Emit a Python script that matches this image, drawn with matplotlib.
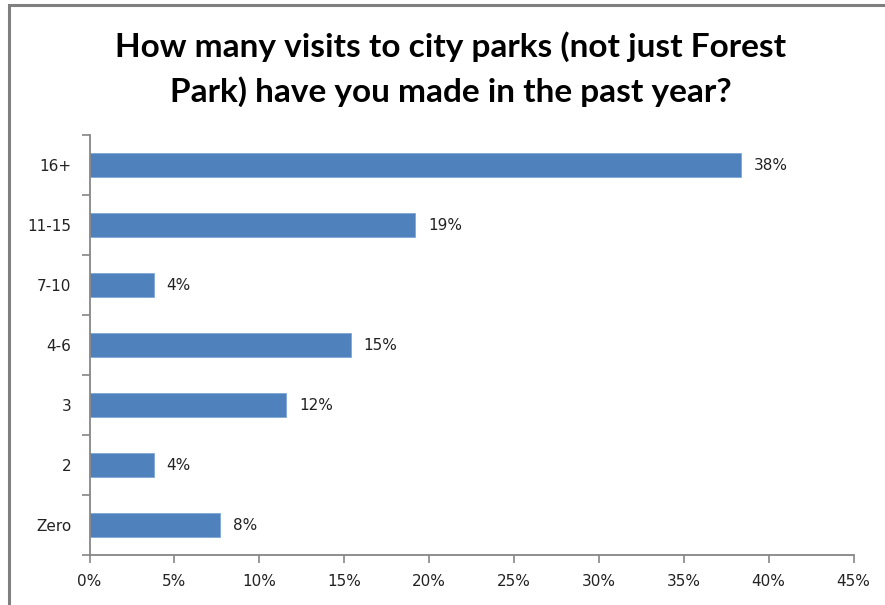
import numpy as np
import matplotlib.pyplot as plt
from matplotlib.patches import Rectangle

# survey answers, top to bottom as shown
categories = ["16+", "11-15", "7-10", "4-6", "3", "2", "Zero"]
shares = [38.4, 19.2, 3.8, 15.4, 11.6, 3.8, 7.7]   # percent of respondents
xticks = [0, 5, 10, 15, 20, 25, 30, 35, 40, 45]

title = "How many visits to city parks (not just Forest\nPark) have you made in the past year?"

bar_color = "#4F81BD"
axis_gray = "#868686"
label_font = ["DejaVu Sans"]
fs = 11

fig = plt.figure(figsize=(8.85, 6.05), dpi=100)
fig.patch.set_facecolor("white")

# chart frame (only left and top edges fall inside the image)
fig.patches.append(Rectangle((9 / 885, -0.1), 1.2, 1 - 5 / 605 + 0.1,
                             transform=fig.transFigure, fill=False,
                             edgecolor="#7f7f7f", linewidth=2.2))

ax = fig.add_axes([89.5 / 885, 1 - 555 / 605, (853.5 - 89.5) / 885, (555 - 135) / 605])

y = np.arange(len(categories))[::-1]
ax.barh(y, shares, height=0.4, color=bar_color, edgecolor="#7ea6d6", linewidth=0.6)

for yi, v in zip(y, shares):
    ax.text(v + 0.75, yi, f"{v:.0f}%", va="center", ha="left",
            fontsize=fs, family=label_font, color="#222222")

ax.set_xlim(0, 45)
ax.set_ylim(-0.5, len(categories) - 0.5)
ax.set_xticks(xticks)
ax.set_xticklabels([f"{t}%" for t in xticks], fontsize=fs, family=label_font, color="#222222")

# category labels centred on bars, tick marks on category boundaries
ax.set_yticks(y)
ax.set_yticklabels(categories, fontsize=fs, family=label_font, color="#222222")
ax.set_yticks(np.arange(-0.5, len(categories)), minor=True)
ax.tick_params(axis="y", which="major", length=0, pad=13)
ax.tick_params(axis="y", which="minor", length=6, width=1.2, color=axis_gray, direction="out")
ax.tick_params(axis="x", length=6, width=1.2, color=axis_gray, direction="out", pad=8)

for side in ["top", "right"]:
    ax.spines[side].set_visible(False)
for side in ["left", "bottom"]:
    ax.spines[side].set_color(axis_gray)
    ax.spines[side].set_linewidth(1.3)

fig.text(451 / 885, 1 - 69 / 605, title, ha="center", va="center",
         fontsize=24, fontweight="bold", family=["Lato", "DejaVu Sans"],
         linespacing=1.55)

plt.savefig("out.png", dpi=100)
